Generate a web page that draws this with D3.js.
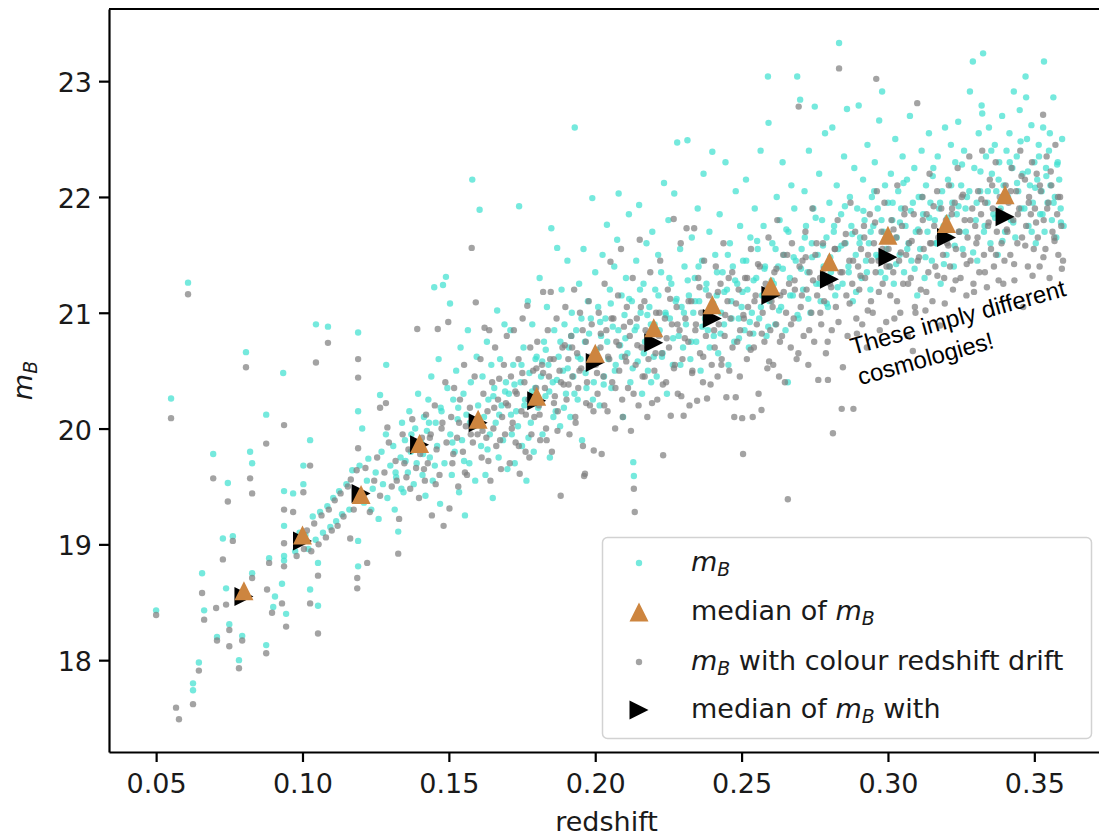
<!DOCTYPE html>
<html>
<head>
<meta charset="utf-8">
<script src="https://cdn.jsdelivr.net/npm/d3@7"></script>
<style>
  html, body { margin: 0; padding: 0; background: #fff; }
  #chart { width: 1099px; height: 837px; overflow: hidden; }
  svg { display: block; font-family: "DejaVu Sans", sans-serif; }
  text { white-space: pre; }
</style>
</head>
<body>
<div id="chart"></div>
<script>
// m_B against redshift (turquoise)
const mBPoints = [
  [0.050,18.43],[0.0551,20.26],[0.0609,21.26],[0.0626,17.80],[0.0626,17.74],[0.0646,17.98],[0.0657,18.75],[0.0664,18.43],[0.0695,19.78],[0.0708,18.20],
  [0.0728,19.05],[0.0739,18.62],[0.0745,19.53],[0.0750,18.31],[0.0762,19.07],[0.0783,18.00],[0.0794,18.21],[0.0807,20.66],[0.0821,19.80],[0.0828,19.70],
  [0.0828,18.75],[0.0876,20.12],[0.0876,18.13],[0.0886,18.88],[0.0900,18.46],[0.0906,18.55],[0.0930,18.66],[0.0934,20.48],[0.0937,19.46],[0.0937,19.16],
  [0.0937,18.90],[0.0937,18.86],[0.0944,18.40],[0.0968,19.44],[0.1003,19.68],[0.1003,19.52],[0.1026,19.90],[0.1026,18.61],[0.1046,20.90],[0.1053,18.84],
  [0.1053,18.47],[0.1087,20.88],[0.1190,20.83],[0.1190,20.15],[0.1190,19.03],[0.1190,18.81],[0.1204,20.00],[0.1265,20.29],[0.1286,20.55],[0.1327,19.11],
  [0.0975,18.94],[0.0990,19.10],[0.1010,19.08],[0.1020,18.96],[0.1035,19.24],[0.1045,19.04],[0.1060,19.28],[0.1070,19.10],[0.1085,19.33],[0.1095,19.15],
  [0.1105,19.40],[0.1115,19.20],[0.1125,19.46],[0.1135,19.26],[0.1150,19.52],[0.1160,19.30],[0.1170,19.64],[0.1180,19.42],[0.1195,19.68],[0.1210,19.36],
  [0.1220,19.55],[0.1225,19.74],[0.1235,19.30],[0.1240,19.48],[0.1250,19.62],[0.1260,19.22],[0.1270,19.80],[0.1275,19.52],[0.1285,19.95],[0.1290,19.40],
  [0.1300,19.68],[0.1310,19.85],[0.1315,19.30],[0.1320,19.58],[0.1335,19.75],[0.1340,20.05],[0.1345,19.45],[0.1350,19.90],[0.1360,19.62],[0.1365,20.15],
  [0.1370,19.80],[0.1380,19.52],[0.1385,20.00],[0.1390,19.70],[0.1395,20.30],
  [0.1318,19.62],[0.1338,19.48],[0.1352,19.72],[0.1372,19.95],[0.1412,19.78],[0.1432,20.05],[0.1452,19.68],[0.1472,20.18],[0.1512,19.88],[0.1532,20.18],
  [0.1552,19.72],[0.1572,20.05],[0.1612,20.02],[0.1632,19.82],[0.1652,20.28],[0.1672,20.12],[0.1692,20.32],
  [0.1405,19.88],[0.1410,19.60],[0.1415,20.10],[0.1420,19.42],[0.1425,19.98],[0.1430,20.25],[0.1435,19.75],[0.1440,20.45],[0.1445,19.55],[0.1450,21.22],
  [0.1455,20.05],[0.1460,19.85],[0.1465,20.60],[0.1470,19.35],[0.1475,20.15],[0.1480,21.24],[0.1485,19.70],[0.1490,21.31],[0.1495,20.35],[0.1504,21.08],
  [0.1505,19.95],[0.1510,19.60],[0.1515,20.25],[0.1520,19.80],[0.1525,20.50],[0.1530,20.08],[0.1535,19.45],[0.1540,20.70],[0.1545,19.90],[0.1550,20.30],
  [0.1555,19.25],[0.1560,20.12],[0.1565,20.85],[0.1570,19.70],[0.1575,20.40],[0.1580,22.15],[0.1585,20.02],[0.1590,19.55],[0.1595,20.62],[0.1600,20.20],
  [0.1605,21.89],[0.1610,19.85],[0.1615,20.45],[0.1620,20.10],[0.1625,19.60],[0.1630,20.75],[0.1635,20.25],[0.1640,19.95],[0.1645,20.55],[0.1650,19.40],
  [0.1655,20.35],[0.1660,20.05],[0.1665,21.02],[0.1670,19.75],[0.1675,20.60],[0.1680,20.20],[0.1685,19.90],[0.1690,20.90],[0.1695,20.40],[0.1700,19.65],
  [0.1705,20.30],[0.1710,20.85],[0.1715,19.95],[0.1720,20.55],[0.1725,19.70],[0.1730,20.15],[0.1740,21.92],[0.1745,20.40],[0.1750,19.85],[0.1755,20.70],
  [0.1760,20.25],[0.1765,19.55],[0.1770,21.10],[0.1775,20.48],[0.1780,20.05],[0.1785,20.90],[0.1790,19.80],[0.1795,20.35],[0.1800,20.62],[0.1805,20.18],
  [0.1810,21.30],[0.1815,20.45],[0.1820,19.95],[0.1825,20.75],[0.1830,20.28],[0.1835,21.05],[0.1840,20.55],[0.1845,19.75],[0.1850,21.73],[0.1855,20.40],
  [0.1860,20.85],[0.1865,20.15],[0.1870,21.56],[0.1875,20.62],[0.1880,20.02],[0.1885,21.20],[0.1890,20.50],[0.1895,20.90],[0.1900,20.30],[0.1905,21.45],
  [0.1910,20.70],[0.1915,20.10],[0.1920,21.00],[0.1925,20.45],[0.1930,22.60],[0.1935,20.85],[0.1940,20.25],[0.1945,21.25],[0.1950,20.60],[0.1955,19.90],
  [0.1960,21.55],[0.1965,20.75],[0.1970,20.35],[0.1975,21.10],[0.1980,20.55],[0.1985,20.95],[0.1990,21.99],[0.1995,20.40],[0.2000,21.35],[0.2005,20.68],
  [0.2010,21.05],[0.2015,20.20],[0.2020,20.80],[0.2025,21.50],[0.2030,20.45],[0.2035,20.95],[0.2040,21.76],[0.2045,20.60],[0.2050,21.20],[0.2055,20.35],
  [0.2060,20.88],[0.2065,21.40],[0.2070,20.55],[0.2075,21.63],[0.2080,22.03],[0.2085,20.72],[0.2090,21.15],[0.2095,20.10],[0.2100,20.98],[0.2105,21.30],
  [0.2110,20.65],[0.2115,21.85],[0.2120,20.40],[0.2125,21.10],[0.2130,19.71],[0.2132,19.59],[0.2135,20.85],[0.2140,21.45],[0.2145,20.58],[0.2150,21.93],
  [0.2155,21.00],[0.2160,20.30],[0.2165,21.25],[0.2170,20.75],[0.2175,21.60],[0.2180,20.50],[0.2185,21.05],[0.2190,20.90],[0.2195,21.70],[0.2200,20.62],
  [0.2205,21.20],[0.2210,20.45],[0.2215,21.50],[0.2220,20.85],[0.2225,21.35],[0.2230,20.65],[0.2235,22.12],[0.2240,21.00],[0.2245,20.30],[0.2250,21.80],
  [0.2255,20.95],[0.2260,21.25],[0.2265,20.55],[0.2270,22.03],[0.2275,21.10],[0.2280,22.47],[0.2285,20.80],[0.2290,21.55],[0.2295,21.05],[0.2300,20.70],
  [0.2305,21.40],[0.2310,20.90],[0.2315,22.49],[0.2320,21.15],[0.2325,20.60],[0.2330,21.65],[0.2335,21.00],[0.2340,21.30],[0.2345,20.75],[0.2350,21.90],
  [0.2355,21.10],[0.2360,20.50],[0.2365,21.45],[0.2370,22.20],[0.2375,20.95],[0.2380,21.25],[0.2385,20.85],[0.2390,21.70],[0.2395,21.05],[0.2400,22.39],
  [0.2405,20.80],[0.2410,21.50],[0.2415,21.15],[0.2420,20.65],[0.2425,21.85],[0.2430,21.00],[0.2435,21.35],[0.2440,20.90],[0.2445,22.30],[0.2450,21.20],
  [0.2455,20.55],[0.2460,21.60],[0.2465,21.10],[0.2470,21.40],[0.2475,20.75],[0.2480,22.05],[0.2485,21.25],[0.2490,20.95],[0.2495,21.75],[0.2500,21.05],
  [0.2505,21.45],[0.2510,20.85],[0.2515,22.15],[0.2520,21.20],[0.2525,20.70],[0.2530,21.65],[0.2535,21.00],[0.2540,20.82],[0.2545,21.90],[0.2550,21.30],
  [0.2555,21.55],[0.2560,20.95],[0.2565,22.40],[0.2570,21.15],[0.2575,21.75],[0.2580,21.40],[0.2585,20.80],[0.2590,23.04],[0.2592,22.64],[0.2595,21.10],
  [0.2605,21.60],[0.2610,21.25],[0.2615,20.90],[0.2620,22.00],[0.2625,21.40],[0.2630,21.80],[0.2635,21.05],[0.2640,22.30],[0.2645,21.50],[0.2650,20.85],
  [0.2658,20.40],[0.2660,21.70],[0.2665,21.30],[0.2670,22.10],[0.2675,21.15],[0.2680,21.90],[0.2685,21.45],[0.2690,23.04],[0.2695,20.95],[0.2700,22.84],
  [0.2705,21.55],[0.2710,21.20],[0.2715,22.05],[0.2720,21.75],[0.2725,21.35],[0.2730,22.40],[0.2735,21.00],[0.2740,21.60],[0.2745,21.90],[0.2750,22.78],
  [0.2755,21.25],[0.2760,21.50],[0.2765,22.20],[0.2770,21.10],[0.2775,21.80],[0.2780,21.40],[0.2785,22.55],[0.2790,21.65],[0.2795,21.05],[0.2800,21.95],
  [0.2805,21.35],[0.2810,22.60],[0.2815,21.70],[0.2820,21.15],[0.2825,22.10],[0.2830,21.55],[0.2833,23.33],[0.2840,21.85],[0.2845,21.25],[0.2850,22.35],
  [0.2855,21.60],[0.2860,22.76],[0.2865,21.40],[0.2870,22.00],[0.2875,21.75],[0.2880,21.10],[0.2885,22.25],[0.2890,21.50],[0.2895,21.90],[0.2900,22.79],
  [0.2905,21.65],[0.2910,21.30],[0.2915,22.15],[0.2920,21.80],[0.2925,21.45],[0.2930,22.45],[0.2935,21.60],[0.2940,21.20],[0.2945,22.00],[0.2950,21.75],
  [0.2955,22.30],[0.2960,21.50],[0.2965,21.90],[0.2970,22.66],[0.2975,21.35],[0.2980,22.91],[0.2985,21.70],[0.2990,22.10],[0.2995,21.55],[0.3000,21.95],
  [0.3005,21.40],[0.3010,22.20],[0.3015,21.80],[0.3020,21.25],[0.3025,22.50],[0.3030,21.65],[0.3035,22.05],[0.3040,21.50],[0.3045,21.90],[0.3050,22.35],
  [0.3055,21.35],[0.3060,21.75],[0.3065,22.15],[0.3070,21.60],[0.3075,22.70],[0.3080,21.45],[0.3085,21.95],[0.3090,22.25],[0.3095,21.70],[0.3100,21.15],
  [0.3105,22.00],[0.3110,21.55],[0.3115,22.40],[0.3120,21.85],[0.3125,21.30],[0.3130,22.10],[0.3135,21.70],[0.3140,22.55],[0.3145,21.95],[0.3150,21.45],
  [0.3155,22.25],[0.3160,21.80],[0.3165,21.60],[0.3170,22.35],[0.3175,21.90],[0.3180,21.25],[0.3185,22.05],[0.3190,21.75],[0.3195,22.60],[0.3200,21.50],
  [0.3205,22.15],[0.3210,21.65],[0.3215,22.45],[0.3220,21.95],[0.3225,21.40],[0.3230,22.30],[0.3235,21.85],[0.3240,22.65],[0.3245,21.70],[0.3250,22.10],
  [0.3255,21.55],[0.3260,22.40],[0.3265,21.90],[0.3270,22.00],[0.3280,22.91],[0.3290,23.17],[0.3295,22.25],[0.3300,21.80],[0.3310,22.55],[0.3320,22.79],
  [0.3322,22.72],[0.3325,23.24],[0.3305,21.45],[0.3315,22.05],[0.3330,21.75],[0.3335,22.35],[0.3340,21.95],[0.3345,22.60],[0.3350,21.60],[0.3355,22.20],
  [0.3360,21.85],[0.3365,22.45],[0.3370,22.05],[0.3375,21.50],[0.3380,22.30],[0.3385,21.90],[0.3390,22.70],[0.3395,22.10],[0.3400,21.70],[0.3405,22.40],
  [0.3410,22.00],[0.3415,22.55],[0.3420,21.80],[0.3425,22.25],[0.3430,22.91],[0.3435,21.65],[0.3440,22.35],[0.3445,22.05],[0.3450,22.75],[0.3455,21.90],
  [0.3460,22.20],[0.3470,23.04],[0.3472,22.86],[0.3475,22.50],[0.3480,21.75],[0.3485,22.10],[0.3490,22.62],[0.3495,21.95],[0.3500,22.30],[0.3505,21.60],
  [0.3510,22.15],[0.3515,22.45],[0.3520,21.85],[0.3525,22.05],[0.3530,22.60],[0.3533,23.17],[0.3535,21.70],[0.3540,22.25],[0.3545,21.95],[0.3550,22.40],
  [0.3555,22.10],[0.3560,21.80],[0.3565,22.86],[0.3570,22.00],[0.3575,21.65],[0.3580,22.30],[0.3585,22.15],[0.3590,21.90],[0.3595,22.50],[0.3600,21.75],
  [0.1712,20.12],[0.1724,20.38],[0.1736,20.02],[0.1748,20.55],[0.1758,20.20],[0.1772,19.92],[0.1784,20.32],[0.1796,20.60],
  [0.1807,20.22],[0.1819,20.58],[0.1831,20.68],[0.1843,20.32],[0.1857,20.10],[0.1869,20.42],[0.1881,20.75],[0.1893,20.18],
  [0.1906,20.52],[0.1918,20.80],[0.1929,20.30],[0.1941,20.62],[0.1953,20.95],[0.1967,20.48],[0.1979,20.82],[0.1992,20.25],
  [0.2004,20.62],[0.2017,20.92],[0.2029,20.38],[0.2041,20.75],[0.2053,21.08],[0.2067,20.50],[0.2079,20.85],[0.2091,20.62],
  [0.2103,20.78],[0.2116,21.12],[0.2128,20.52],[0.2141,20.88],[0.2153,21.20],[0.2166,20.65],[0.2178,20.98],[0.2191,20.40],
  [0.2203,20.90],[0.2216,21.15],[0.2228,20.62],[0.2241,20.98],[0.2253,21.30],[0.2266,20.78],[0.2278,21.12],[0.2291,20.55],
  [0.2303,21.00],[0.2316,21.28],[0.2328,20.75],[0.2341,21.10],[0.2353,21.40],[0.2366,20.88],[0.2378,21.20],[0.2391,20.70],
  [0.2403,21.08],[0.2416,21.35],[0.2428,20.82],[0.2441,21.18],[0.2453,21.50],[0.2466,20.95],[0.2478,21.28],[0.2491,20.78],
  [0.2503,21.18],[0.2516,21.45],[0.2528,20.92],[0.2541,21.28],[0.2553,21.62],[0.2566,21.05],[0.2578,21.38],[0.2591,20.88],
  [0.2603,21.28],[0.2616,21.55],[0.2628,21.02],[0.2641,21.38],[0.2653,21.72],[0.2666,21.15],[0.2678,21.48],[0.2691,20.98],
  [0.2703,21.38],[0.2716,21.65],[0.2728,21.12],[0.2741,21.48],[0.2753,21.82],[0.2766,21.25],[0.2778,21.58],[0.2791,21.08],
  [0.2803,21.48],[0.2816,21.75],[0.2828,21.22],[0.2841,21.58],[0.2853,21.92],[0.2866,21.35],[0.2878,21.68],[0.2891,21.18],
  [0.2903,21.60],[0.2916,21.88],[0.2928,21.35],[0.2941,21.70],[0.2953,22.05],[0.2966,21.48],[0.2978,21.80],[0.2991,21.30],
  [0.3003,21.68],[0.3016,21.95],[0.3028,21.42],[0.3041,21.78],[0.3053,22.12],[0.3066,21.55],[0.3078,21.88],[0.3091,21.38],
  [0.3103,21.72],[0.3116,22.00],[0.3128,21.48],[0.3141,21.82],[0.3153,22.18],[0.3166,21.60],[0.3178,21.95],[0.3191,21.42],
  [0.3203,21.82],[0.3216,22.10],[0.3228,21.58],[0.3241,21.92],[0.3253,22.28],[0.3266,21.70],[0.3278,22.05],[0.3291,21.52],
  [0.3303,21.95],[0.3316,22.22],[0.3328,21.70],[0.3341,22.05],[0.3353,22.40],[0.3366,21.82],[0.3378,22.15],[0.3391,21.62],
  [0.3403,22.02],[0.3416,22.30],[0.3428,21.78],[0.3441,22.12],[0.3453,22.48],[0.3466,21.90],[0.3478,22.22],[0.3491,21.70],
  [0.3503,22.08],[0.3516,22.35],[0.3528,21.85],[0.3541,22.18],[0.3553,22.55],[0.3566,21.95],[0.3578,22.28],[0.3591,21.78]
];

// m_B with colour redshift drift (grey)
const mBDriftPoints = [
  [0.050,18.39],[0.0551,20.09],[0.0568,17.59],[0.0578,17.49],[0.0609,21.16],[0.0626,17.62],[0.0646,17.91],[0.0657,18.58],[0.0664,18.35],[0.0695,19.57],
  [0.0705,18.45],[0.0708,18.17],[0.0728,18.87],[0.0739,18.48],[0.0745,19.37],[0.0750,18.26],[0.0750,18.12],[0.0762,19.03],[0.0783,17.93],[0.0794,18.17],
  [0.0807,20.53],[0.0821,19.57],[0.0828,19.44],[0.0828,18.71],[0.0876,19.87],[0.0876,18.06],[0.0879,18.61],[0.0886,18.84],[0.0896,18.41],[0.0930,18.49],
  [0.0937,20.03],[0.0937,19.30],[0.0937,19.01],[0.0937,18.81],[0.0944,18.29],[0.0968,19.28],[0.1003,19.45],[0.1026,19.68],[0.1026,18.49],[0.1046,20.57],
  [0.1053,18.73],[0.1053,18.23],[0.1087,20.74],[0.1163,19.05],[0.1187,18.71],[0.1187,18.62],[0.1190,20.60],[0.1190,20.44],[0.1190,19.83],[0.1221,18.84],
  [0.1265,20.18],[0.1285,20.22],[0.1290,20.01],[0.1327,18.92],
  [0.0980,18.90],[0.0995,19.06],[0.1005,18.96],[0.1015,19.12],[0.1030,18.94],[0.1040,19.18],[0.1055,19.00],[0.1065,19.25],[0.1080,19.06],[0.1090,19.30],
  [0.1100,19.12],[0.1110,19.38],[0.1120,19.16],[0.1130,19.44],[0.1140,19.24],[0.1155,19.50],[0.1165,19.56],[0.1175,19.30],[0.1185,19.64],[0.1200,19.42],
  [0.1215,19.66],[0.1230,19.28],[0.1245,19.55],[0.1255,19.75],[0.1265,19.42],[0.1280,19.62],[0.1295,19.88],[0.1305,19.50],[0.1318,19.72],[0.1330,19.22],
  [0.1342,19.95],[0.1355,19.58],[0.1362,19.82],[0.1375,20.08],[0.1388,19.66],[0.1398,19.40],[0.1392,20.86],
  [0.1322,19.55],[0.1348,19.70],[0.1368,19.48],[0.1385,19.85],[0.1415,19.65],[0.1435,19.92],[0.1455,19.52],[0.1475,20.00],[0.1515,19.78],[0.1535,20.05],
  [0.1555,19.62],[0.1575,19.95],[0.1615,19.98],[0.1635,19.72],[0.1655,20.18],[0.1675,19.90],[0.1695,20.22],
  [0.1402,19.78],[0.1408,19.92],[0.1418,19.55],[0.1422,20.12],[0.1428,19.70],[0.1438,19.95],[0.1442,19.25],[0.1452,20.20],[0.1458,19.82],[0.1462,20.86],
  [0.1468,19.60],[0.1478,20.05],[0.1482,19.16],[0.1488,20.40],[0.1492,19.88],[0.1498,20.92],
  [0.1502,19.31],[0.1508,20.10],[0.1512,19.70],[0.1518,20.35],[0.1528,19.92],[0.1532,19.50],[0.1538,20.25],[0.1548,19.80],[0.1552,20.55],[0.1558,20.02],
  [0.1562,19.60],[0.1572,20.18],[0.1578,21.56],[0.1582,19.88],[0.1588,20.45],[0.1592,21.09],[0.1598,19.95],
  [0.1602,20.08],[0.1608,20.60],[0.1612,19.75],[0.1618,20.30],[0.1622,20.87],[0.1628,19.92],[0.1632,20.15],[0.1638,20.85],[0.1642,19.55],[0.1648,20.40],
  [0.1652,20.00],[0.1658,20.70],[0.1662,19.85],[0.1668,20.25],[0.1672,20.43],[0.1678,19.65],[0.1682,20.10],[0.1688,20.55],[0.1692,19.95],[0.1698,20.80],
  [0.1702,20.20],[0.1708,19.70],[0.1712,20.45],[0.1718,20.05],[0.1722,20.85],[0.1728,19.88],[0.1732,20.30],[0.1738,20.60],[0.1742,19.61],[0.1748,20.15],
  [0.1752,20.95],[0.1758,20.40],[0.1762,19.80],[0.1768,21.06],[0.1772,20.25],[0.1778,20.70],[0.1782,19.95],[0.1788,20.50],[0.1792,20.10],[0.1798,20.35],
  [0.1802,20.75],[0.1808,20.20],[0.1812,19.90],[0.1818,20.55],[0.1822,21.18],[0.1828,20.35],[0.1832,20.00],[0.1838,20.85],[0.1842,20.45],[0.1848,21.18],
  [0.1852,19.80],[0.1858,20.60],[0.1862,20.28],[0.1868,20.95],[0.1872,20.15],[0.1878,20.50],[0.1882,19.42],[0.1888,20.70],[0.1892,20.38],[0.1898,21.05],
  [0.1902,20.25],[0.1908,20.60],[0.1912,19.95],[0.1918,20.80],[0.1922,20.45],[0.1928,21.20],[0.1932,20.10],[0.1938,20.65],[0.1942,20.35],[0.1948,21.00],
  [0.1952,20.52],[0.1958,19.85],[0.1962,19.59],[0.1965,19.61],[0.1968,20.75],[0.1972,20.40],[0.1978,21.10],[0.1982,20.20],[0.1988,20.90],[0.1995,19.81],
  [0.2002,20.55],[0.2008,20.30],[0.2012,21.00],[0.2018,20.70],[0.2022,19.78],[0.2028,20.45],[0.2032,21.25],[0.2038,20.85],[0.2042,20.15],[0.2048,20.60],
  [0.2052,21.44],[0.2058,20.40],[0.2062,20.95],[0.2068,20.00],[0.2072,20.75],[0.2078,21.15],[0.2082,20.50],[0.2088,21.55],[0.2092,20.25],[0.2098,20.88],
  [0.2102,20.62],[0.2108,21.05],[0.2112,20.35],[0.2118,20.80],[0.2122,19.98],[0.2128,21.30],[0.2132,19.48],[0.2135,19.28],[0.2138,20.55],[0.2142,20.95],
  [0.2148,20.20],[0.2152,21.63],[0.2158,20.70],[0.2162,20.45],[0.2168,21.10],[0.2172,20.85],[0.2178,20.10],[0.2182,20.60],[0.2188,21.35],[0.2195,20.75],
  [0.2202,20.50],[0.2208,21.00],[0.2212,20.25],[0.2218,20.80],[0.2222,21.45],[0.2228,20.65],[0.2232,19.77],[0.2238,20.95],[0.2242,20.40],[0.2248,21.20],
  [0.2252,20.70],[0.2258,20.11],[0.2262,20.90],[0.2268,21.81],[0.2272,20.55],[0.2278,21.05],[0.2282,20.30],[0.2288,20.85],[0.2292,21.60],[0.2298,20.60],
  [0.2302,20.11],[0.2308,20.95],[0.2312,21.73],[0.2318,20.75],[0.2322,20.20],[0.2328,21.10],[0.2332,20.50],[0.2338,21.73],[0.2342,20.85],[0.2348,20.24],
  [0.2352,21.30],[0.2358,20.65],[0.2362,21.00],[0.2368,20.40],[0.2372,21.45],[0.2378,20.80],[0.2382,20.26],[0.2388,21.15],[0.2392,20.95],[0.2398,20.55],
  [0.2402,21.05],[0.2408,20.70],[0.2412,21.40],[0.2418,20.45],[0.2422,20.90],[0.2428,21.25],[0.2432,20.60],[0.2438,21.60],[0.2442,20.80],[0.2448,20.27],
  [0.2452,21.10],[0.2458,20.50],[0.2462,20.95],[0.2468,21.35],[0.2475,20.10],[0.2480,20.27],[0.2485,20.75],[0.2490,21.20],[0.2495,20.85],[0.2505,19.78],
  [0.2502,20.09],[0.2508,20.95],[0.2512,21.30],[0.2518,20.60],[0.2522,21.05],[0.2528,20.82],[0.2532,21.55],[0.2538,20.10],[0.2542,20.70],[0.2548,21.15],
  [0.2552,20.90],[0.2558,20.30],[0.2562,21.40],[0.2568,20.16],[0.2572,21.00],[0.2578,20.75],[0.2582,21.25],[0.2588,20.52],[0.2592,21.65],[0.2598,20.85],
  [0.2602,21.10],[0.2608,20.55],[0.2612,21.35],[0.2618,20.90],[0.2622,21.80],[0.2628,20.45],[0.2632,21.15],[0.2638,20.80],[0.2642,21.50],[0.2648,20.40],
  [0.2652,21.00],[0.2658,19.39],[0.2662,21.25],[0.2668,20.70],[0.2672,21.60],[0.2678,20.95],[0.2682,21.20],[0.2688,20.60],[0.2695,22.78],[0.2698,21.40],
  [0.2702,21.05],[0.2708,21.45],[0.2712,20.80],[0.2718,21.70],[0.2722,21.20],[0.2728,20.55],[0.2732,21.35],[0.2738,21.00],[0.2742,21.90],[0.2748,20.75],
  [0.2752,21.50],[0.2758,21.15],[0.2762,20.42],[0.2768,21.30],[0.2772,20.90],[0.2778,21.60],[0.2782,21.10],[0.2788,20.65],[0.2795,20.42],[0.2798,21.40],
  [0.2802,21.25],[0.2808,20.85],[0.2812,19.96],[0.2818,21.55],[0.2822,21.05],[0.2828,21.80],[0.2833,23.11],[0.2838,21.35],[0.2842,20.17],[0.2846,20.53],
  [0.2852,21.60],[0.2858,21.15],[0.2862,20.80],[0.2868,21.45],[0.2872,21.95],[0.2878,21.25],[0.2882,20.17],[0.2888,21.70],[0.2892,20.95],[0.2898,21.40],
  [0.2902,21.20],[0.2908,21.55],[0.2912,20.90],[0.2918,21.75],[0.2922,21.30],[0.2928,20.70],[0.2932,21.50],[0.2938,21.85],[0.2942,21.10],[0.2948,21.00],
  [0.2952,21.60],[0.2958,21.35],[0.2960,23.02],[0.2962,22.05],[0.2968,21.45],[0.2972,20.85],[0.2978,21.70],[0.2982,21.25],[0.2988,21.95],[0.2995,21.40],
  [0.3002,21.55],[0.3008,21.15],[0.3012,21.80],[0.3018,21.35],[0.3022,20.95],[0.3028,21.65],[0.3032,22.10],[0.3038,21.45],[0.3042,21.00],[0.3048,21.75],
  [0.3052,21.25],[0.3058,21.90],[0.3062,21.50],[0.3068,20.80],[0.3072,21.60],[0.3078,21.30],[0.3085,20.67],[0.3088,21.85],[0.3092,21.05],[0.3100,22.81],
  [0.3102,21.45],[0.3108,21.70],[0.3112,21.20],[0.3118,22.00],[0.3122,21.55],[0.3128,21.02],[0.3132,21.85],[0.3138,21.35],[0.3142,22.20],[0.3148,21.60],
  [0.3152,21.10],[0.3158,21.75],[0.3162,21.40],[0.3168,22.05],[0.3172,21.65],[0.3178,20.89],[0.3182,21.90],[0.3188,21.50],[0.3192,21.30],[0.3198,21.80],
  [0.3202,21.60],[0.3208,22.10],[0.3212,21.40],[0.3218,21.85],[0.3222,21.20],[0.3228,21.95],[0.3232,21.55],[0.3238,22.25],[0.3242,21.70],[0.3248,21.30],
  [0.3252,22.00],[0.3258,21.50],[0.3262,21.80],[0.3268,21.15],[0.3272,21.65],[0.3278,22.35],[0.3282,21.45],[0.3288,21.90],[0.3292,21.25],[0.3298,21.75],
  [0.3302,21.60],[0.3308,22.05],[0.3312,21.35],[0.3318,21.85],[0.3322,22.40],[0.3328,21.50],[0.3332,21.95],[0.3338,21.22],[0.3342,21.75],[0.3348,22.15],
  [0.3352,21.55],[0.3358,21.90],[0.3362,21.40],[0.3368,22.30],[0.3372,21.70],[0.3378,21.28],[0.3382,22.00],[0.3388,21.60],[0.3392,21.85],[0.3398,21.45],
  [0.3402,22.10],[0.3408,21.70],[0.3412,21.95],[0.3418,21.50],[0.3422,22.25],[0.3428,21.80],[0.3432,21.28],[0.3438,22.05],[0.3442,21.60],[0.3448,21.90],
  [0.3452,22.40],[0.3458,21.65],[0.3462,21.05],[0.3468,22.15],[0.3472,21.75],[0.3478,21.40],[0.3482,22.00],[0.3488,21.85],[0.3492,22.30],[0.3498,21.55],
  [0.3502,21.90],[0.3508,22.20],[0.3512,21.65],[0.3518,21.40],[0.3522,22.05],[0.3530,22.71],[0.3532,21.80],[0.3538,21.55],[0.3542,22.35],[0.3548,21.95],
  [0.3552,21.30],[0.3558,22.10],[0.3562,21.70],[0.3568,21.65],[0.3572,22.45],[0.3578,21.85],[0.3582,21.50],[0.3588,22.00],[0.3592,21.75],[0.3598,21.45],
  [0.1715,20.00],[0.1727,20.32],[0.1739,19.85],[0.1751,20.48],[0.1763,20.12],[0.1775,19.75],[0.1787,20.25],[0.1799,20.52],
  [0.1810,20.12],[0.1822,20.48],[0.1834,19.90],[0.1846,20.60],[0.1859,20.22],[0.1871,19.98],[0.1883,20.40],[0.1896,20.72],
  [0.1909,20.38],[0.1921,20.70],[0.1933,20.05],[0.1946,20.50],[0.1957,20.85],[0.1969,20.22],[0.1981,20.62],[0.1994,20.15],
  [0.2006,20.48],[0.2019,20.82],[0.2031,20.20],[0.2044,20.62],[0.2056,20.95],[0.2069,20.35],[0.2081,20.72],[0.2094,20.10],
  [0.2106,20.58],[0.2119,20.92],[0.2131,20.30],[0.2144,20.72],[0.2156,21.05],[0.2169,20.45],[0.2181,20.82],[0.2194,20.22],
  [0.2206,20.65],[0.2219,21.00],[0.2231,20.38],[0.2244,20.78],[0.2256,21.12],[0.2269,20.52],[0.2281,20.90],[0.2294,20.28],
  [0.2306,20.78],[0.2319,21.10],[0.2331,20.48],[0.2344,20.90],[0.2356,21.22],[0.2369,20.62],[0.2381,21.00],[0.2394,20.38],
  [0.2406,20.85],[0.2419,21.18],[0.2431,20.55],[0.2444,20.98],[0.2456,21.30],[0.2469,20.70],[0.2481,21.08],[0.2494,20.45],
  [0.2506,20.98],[0.2519,21.30],[0.2531,20.68],[0.2544,21.10],[0.2556,21.42],[0.2569,20.82],[0.2581,21.20],[0.2594,20.58],
  [0.2606,21.05],[0.2619,21.38],[0.2631,20.75],[0.2644,21.18],[0.2656,21.50],[0.2669,20.90],[0.2681,21.28],[0.2694,20.65],
  [0.2706,21.15],[0.2719,21.48],[0.2731,20.85],[0.2744,21.28],[0.2756,21.60],[0.2769,21.00],[0.2781,21.38],[0.2794,20.75],
  [0.2806,21.22],[0.2819,21.55],[0.2831,20.92],[0.2844,21.35],[0.2856,21.68],[0.2869,21.08],[0.2881,21.45],[0.2894,20.82],
  [0.2906,21.32],[0.2919,21.65],[0.2931,21.02],[0.2944,21.45],[0.2956,21.78],[0.2969,21.18],[0.2981,21.55],[0.2994,20.92],
  [0.3006,21.40],[0.3019,21.72],[0.3031,21.10],[0.3044,21.52],[0.3056,21.85],[0.3069,21.25],[0.3081,21.62],[0.3094,21.00],
  [0.3106,21.48],[0.3119,21.80],[0.3131,21.18],[0.3144,21.60],[0.3156,21.92],[0.3169,21.32],[0.3181,21.70],[0.3194,21.08],
  [0.3206,21.58],[0.3219,21.90],[0.3231,21.28],[0.3244,21.70],[0.3256,22.02],[0.3269,21.42],[0.3281,21.80],[0.3294,21.18],
  [0.3306,21.65],[0.3319,21.98],[0.3331,21.35],[0.3344,21.78],[0.3356,22.10],[0.3369,21.50],[0.3381,21.88],[0.3394,21.25],
  [0.3406,21.72],[0.3419,22.05],[0.3431,21.42],[0.3444,21.85],[0.3456,22.18],[0.3469,21.58],[0.3481,21.95],[0.3494,21.32],
  [0.3506,21.78],[0.3519,22.10],[0.3531,21.48],[0.3544,21.90],[0.3556,22.22],[0.3569,21.62],[0.3581,22.00],[0.3594,21.38]
];

// binned medians
const medianZ = [0.08, 0.10, 0.12, 0.14, 0.16, 0.18, 0.20, 0.22, 0.24, 0.26, 0.28, 0.30, 0.32, 0.34];
const medianMB = [18.60, 19.08, 19.43, 19.87, 20.08, 20.28, 20.65, 20.87, 21.07, 21.23, 21.44, 21.67, 21.77, 22.02];
const medianMBDrift = [18.55, 19.03, 19.44, 19.86, 20.05, 20.24, 20.57, 20.74, 20.95, 21.15, 21.29, 21.48, 21.65, 21.83];

const xTicks = [0.05, 0.10, 0.15, 0.20, 0.25, 0.30, 0.35];
const yTicks = [18, 19, 20, 21, 22, 23];

const legendLabels = ["$m_B$", "median of $m_B$", "$m_B$ with colour redshift drift", "median of $m_B$ with"];
const annotationLines = ["These imply different", "cosmologies!"];

class RedshiftChart {

    constructor(opts) {
        this.element = opts.element;
        this.update();
    }

    _setDimensions() {
        this.margin = {
            top: 9,
            right: -5,
            bottom: 85,
            left: 109
        };
        this.width = 1099 - this.margin.left - this.margin.right;
        this.height = 837 - this.margin.top - this.margin.bottom;
    }

    update() {
        this._setDimensions();
        this._setScales();
        this.draw();
    }

    _setScales() {
        this.xScale = d3.scaleLinear()
            .domain([0.0339, 0.3738])
            .range([0, this.width]);

        this.yScale = d3.scaleLinear()
            .domain([17.207, 23.623])
            .range([this.height, 0]);

        this.xAxis = d3.axisBottom(this.xScale)
            .tickValues(xTicks)
            .tickSize(10)
            .tickSizeOuter(0)
            .tickFormat(d3.format(".2f"));

        this.yAxis = d3.axisLeft(this.yScale)
            .tickValues(yTicks)
            .tickSize(10)
            .tickSizeOuter(0)
            .tickFormat(d3.format("d"));
    }

    // writes a label where "$m_B$" becomes italic m with subscript B
    _mathLabel(text, label) {
        let parts = label.split("$m_B$");
        let shifted = false;
        parts.forEach((p, i) => {
            if (i > 0) {
                text.append("tspan").attr("font-style", "italic").text("m");
                text.append("tspan").attr("font-style", "italic")
                    .attr("font-size", "0.7em").attr("dy", 5).text("B");
                shifted = true;
            }
            if (p) {
                let t = text.append("tspan").text(p);
                if (shifted) { t.attr("dy", -5); shifted = false; }
            }
        });
    }

    draw() {
        this.element.innerHTML = "";

        this.svg = d3.select(this.element).append("svg")
            .attr("width", 1099)
            .attr("height", 837);

        this.plot = this.svg.append("g")
            .attr("transform", `translate(${this.margin.left},${this.margin.top})`);

        // scatter clouds
        this.plot.append("g").selectAll("circle")
            .data(mBPoints)
            .enter().append("circle")
            .attr("cx", d => this.xScale(d[0]))
            .attr("cy", d => this.yScale(d[1]))
            .attr("r", 3.2)
            .attr("fill", "#40e0d0")
            .attr("fill-opacity", 0.72);

        this.plot.append("g").selectAll("circle")
            .data(mBDriftPoints)
            .enter().append("circle")
            .attr("cx", d => this.xScale(d[0]))
            .attr("cy", d => this.yScale(d[1]))
            .attr("r", 3.2)
            .attr("fill", "#808080")
            .attr("fill-opacity", 0.72);

        // medians
        const s = 9.5;
        const rightTri = `M${s},0L${-s},${-s}L${-s},${s}Z`;
        const upTri = `M0,${-s}L${-s},${s}L${s},${s}Z`;

        this.plot.append("g").selectAll("path")
            .data(medianZ)
            .enter().append("path")
            .attr("d", rightTri)
            .attr("transform", (d, i) => `translate(${this.xScale(d)},${this.yScale(medianMBDrift[i])})`)
            .attr("fill", "#000");

        this.plot.append("g").selectAll("path")
            .data(medianZ)
            .enter().append("path")
            .attr("d", upTri)
            .attr("transform", (d, i) => `translate(${this.xScale(d)},${this.yScale(medianMB[i])})`)
            .attr("fill", "#cd853f");

        // axes
        let gx = this.plot.append("g")
            .attr("transform", `translate(0,${this.height})`)
            .call(this.xAxis);
        gx.selectAll("text").attr("y", 41).attr("dy", 0);

        let gy = this.plot.append("g").call(this.yAxis);
        gy.selectAll("text").attr("x", -17).attr("y", 10.5).attr("dy", 0);

        [gx, gy].forEach(g => {
            g.attr("font-family", "DejaVu Sans, sans-serif").attr("font-size", 27);
            g.selectAll("text").attr("fill", "#1a1a1a");
            g.selectAll(".domain").attr("stroke", "#000").attr("stroke-width", 2.2);
            g.selectAll(".tick line").attr("stroke", "#000").attr("stroke-width", 2.2);
        });

        // top and right spines
        this.plot.append("path")
            .attr("d", `M0,0H${this.width}V${this.height}`)
            .attr("fill", "none")
            .attr("stroke", "#000")
            .attr("stroke-width", 2.2);

        // axis labels
        this.svg.append("text")
            .attr("x", this.margin.left + this.width / 2)
            .attr("y", 831)
            .attr("text-anchor", "middle")
            .attr("font-size", 27)
            .attr("fill", "#1a1a1a")
            .text("redshift");

        let ylab = this.svg.append("text")
            .attr("transform", `translate(32,${this.margin.top + this.height / 2}) rotate(-90)`)
            .attr("text-anchor", "middle")
            .attr("font-size", 27)
            .attr("fill", "#1a1a1a");
        this._mathLabel(ylab, "$m_B$");

        // annotation
        let note = this.svg.append("text")
            .attr("transform", "translate(853,355) rotate(-15.5)")
            .attr("font-family", "Liberation Sans, Arial, sans-serif")
            .attr("font-size", 24)
            .attr("fill", "#000");
        annotationLines.forEach((line, i) => {
            note.append("tspan").attr("x", i === 0 ? 0 : -1).attr("y", i * 31).text(line);
        });

        // legend
        let legend = this.svg.append("g").attr("transform", "translate(602,537)");
        legend.append("rect")
            .attr("x", 0.5).attr("y", 0.5)
            .attr("width", 489).attr("height", 201)
            .attr("rx", 5)
            .attr("fill", "#fff").attr("fill-opacity", 0.85)
            .attr("stroke", "#d2d2d2").attr("stroke-width", 1.5);

        const rowY = [26, 75, 125, 173];
        const mx = 37;

        legend.append("circle").attr("cx", mx).attr("cy", rowY[0]).attr("r", 3.2)
            .attr("fill", "#40e0d0").attr("fill-opacity", 0.72);
        legend.append("path").attr("d", upTri)
            .attr("transform", `translate(${mx},${rowY[1]})`).attr("fill", "#cd853f");
        legend.append("circle").attr("cx", mx).attr("cy", rowY[2]).attr("r", 3.2)
            .attr("fill", "#808080").attr("fill-opacity", 0.72);
        legend.append("path").attr("d", rightTri)
            .attr("transform", `translate(${mx},${rowY[3]})`).attr("fill", "#000");

        legendLabels.forEach((lab, i) => {
            let t = legend.append("text")
                .attr("x", 89)
                .attr("y", rowY[i] + 8)
                .attr("font-size", 27)
                .attr("fill", "#1a1a1a");
            this._mathLabel(t, lab);
        });
    }
}

new RedshiftChart({ element: document.getElementById("chart") });
</script>
</body>
</html>
